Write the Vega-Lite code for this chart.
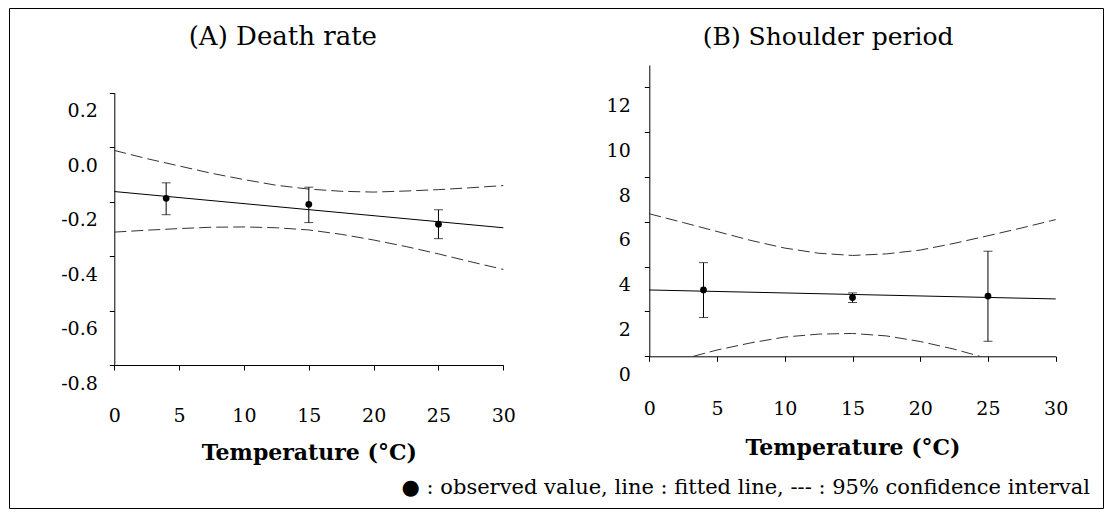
{
  "$schema": "https://vega.github.io/schema/vega-lite/v6.json",
  "width": 1094,
  "height": 500,
  "autosize": "none",
  "padding": {"left": 9, "top": 8, "right": 10, "bottom": 5},
  "background": "white",
  "config": {
    "view": {"stroke": "#000", "strokeWidth": 1},
    "axis": {
      "grid": false, "domainColor": "#000", "tickColor": "#000", "labelColor": "#000", "titleColor": "#000",
      "domainWidth": 1, "tickWidth": 1, "tickSize": 5,
      "labelFont": "DejaVu Serif", "labelFontSize": 19,
      "titleFont": "DejaVu Serif", "titleFontSize": 22, "titleFontWeight": "bold"
    },
    "text": {"font": "DejaVu Serif", "color": "#000"}
  },
  "datasets": {
    "ptsA": [
      {"T": 4, "obs": -0.188, "lo": -0.248, "hi": -0.131},
      {"T": 15, "obs": -0.210, "lo": -0.277, "hi": -0.147},
      {"T": 25, "obs": -0.283, "lo": -0.336, "hi": -0.230}
    ],
    "fitA": [{"T": 0, "v": -0.163}, {"T": 30, "v": -0.296}],
    "ciA": [
      {"T": 0, "v": -0.012, "bound": "upper"}, {"T": 2.5, "v": -0.042, "bound": "upper"},
      {"T": 5, "v": -0.069, "bound": "upper"}, {"T": 7.5, "v": -0.096, "bound": "upper"},
      {"T": 10, "v": -0.119, "bound": "upper"}, {"T": 12.5, "v": -0.140, "bound": "upper"},
      {"T": 15, "v": -0.154, "bound": "upper"}, {"T": 17.5, "v": -0.162, "bound": "upper"},
      {"T": 20, "v": -0.165, "bound": "upper"}, {"T": 22.5, "v": -0.161, "bound": "upper"},
      {"T": 25, "v": -0.156, "bound": "upper"}, {"T": 27.5, "v": -0.149, "bound": "upper"},
      {"T": 30, "v": -0.141, "bound": "upper"},
      {"T": 0, "v": -0.312, "bound": "lower"}, {"T": 2.5, "v": -0.305, "bound": "lower"},
      {"T": 5, "v": -0.299, "bound": "lower"}, {"T": 7.5, "v": -0.294, "bound": "lower"},
      {"T": 10, "v": -0.293, "bound": "lower"}, {"T": 12.5, "v": -0.296, "bound": "lower"},
      {"T": 15, "v": -0.304, "bound": "lower"}, {"T": 17.5, "v": -0.320, "bound": "lower"},
      {"T": 20, "v": -0.341, "bound": "lower"}, {"T": 22.5, "v": -0.365, "bound": "lower"},
      {"T": 25, "v": -0.392, "bound": "lower"}, {"T": 27.5, "v": -0.421, "bound": "lower"},
      {"T": 30, "v": -0.449, "bound": "lower"}
    ],
    "ptsB": [
      {"T": 4, "obs": 2.96, "lo": 1.73, "hi": 4.18},
      {"T": 15, "obs": 2.62, "lo": 2.40, "hi": 2.83},
      {"T": 25, "obs": 2.69, "lo": 0.67, "hi": 4.69}
    ],
    "fitB": [{"T": 0, "v": 2.96}, {"T": 30, "v": 2.56}],
    "ciB": [
      {"T": 0, "v": 6.36, "bound": "upper"}, {"T": 2.5, "v": 5.97, "bound": "upper"},
      {"T": 5, "v": 5.57, "bound": "upper"}, {"T": 7.5, "v": 5.17, "bound": "upper"},
      {"T": 10, "v": 4.83, "bound": "upper"}, {"T": 12.5, "v": 4.60, "bound": "upper"},
      {"T": 15, "v": 4.50, "bound": "upper"}, {"T": 17.5, "v": 4.57, "bound": "upper"},
      {"T": 20, "v": 4.74, "bound": "upper"}, {"T": 22.5, "v": 5.04, "bound": "upper"},
      {"T": 25, "v": 5.38, "bound": "upper"}, {"T": 27.5, "v": 5.73, "bound": "upper"},
      {"T": 30, "v": 6.10, "bound": "upper"},
      {"T": 3.25, "v": 0, "bound": "lower"}, {"T": 5, "v": 0.28, "bound": "lower"},
      {"T": 7.5, "v": 0.60, "bound": "lower"}, {"T": 10, "v": 0.86, "bound": "lower"},
      {"T": 12.5, "v": 0.99, "bound": "lower"}, {"T": 15, "v": 1.02, "bound": "lower"},
      {"T": 17.5, "v": 0.91, "bound": "lower"}, {"T": 20, "v": 0.66, "bound": "lower"},
      {"T": 22.5, "v": 0.32, "bound": "lower"}, {"T": 24.4, "v": 0, "bound": "lower"}
    ],
    "titles": [
      {"panel": "A", "label": "(A) Death rate", "tx": 13.0, "ty": 0.405},
      {"panel": "B", "label": "(B) Shoulder period", "tx": 13.2, "ty": 14.25},
      {"panel": "note", "label": "● : observed value, line : fitted line, --- : 95% confidence interval", "tx": 32.53, "ty": -5.87}
    ]
  },
  "layer": [
    {
      "encoding": {
        "x": {
          "field": "T", "type": "quantitative",
          "scale": {"domain": [0, 30], "range": [105.3, 494.3], "nice": false, "zero": false},
          "axis": {"orient": "bottom", "offset": -143, "values": [0, 5, 10, 15, 20, 25, 30], "labelFlush": false, "labelPadding": 36, "title": "Temperature (°C)", "titlePadding": 17}
        },
        "y": {
          "field": "v", "type": "quantitative",
          "scale": {"domain": [-0.8, 0.2], "range": [357, 84.7], "nice": false, "zero": false},
          "axis": {"orient": "left", "offset": -105.3, "values": [-0.8, -0.6, -0.4, -0.2, 0, 0.2], "labelOffset": 18, "labelPadding": 12, "title": null, "labelExpr": "replace(format(datum.value, '.1f'), '\u2212', '-')"}
        }
      },
      "layer": [
        {"data": {"name": "ciA"}, "mark": {"type": "line", "color": "#333", "strokeWidth": 1, "strokeDash": [12, 5]}, "encoding": {"detail": {"field": "bound"}}},
        {"data": {"name": "fitA"}, "mark": {"type": "line", "color": "#000", "strokeWidth": 1}, "encoding": {}},
        {"data": {"name": "ptsA"}, "mark": {"type": "rule", "color": "#000", "strokeWidth": 1}, "encoding": {"y": {"field": "lo", "type": "quantitative"}, "y2": {"field": "hi"}}},
        {"data": {"name": "ptsA"}, "mark": {"type": "tick", "orient": "horizontal", "size": 9, "thickness": 1, "color": "#000"}, "encoding": {"y": {"field": "lo", "type": "quantitative"}}},
        {"data": {"name": "ptsA"}, "mark": {"type": "tick", "orient": "horizontal", "size": 9, "thickness": 1, "color": "#000"}, "encoding": {"y": {"field": "hi", "type": "quantitative"}}},
        {"data": {"name": "ptsA"}, "mark": {"type": "circle", "size": 46, "color": "#000", "opacity": 1}, "encoding": {"y": {"field": "obs", "type": "quantitative"}}},
        {"data": {"name": "titles"}, "transform": [{"filter": "datum.panel == 'A'"}], "mark": {"type": "text", "fontSize": 26, "align": "center", "baseline": "middle"}, "encoding": {"x": {"field": "tx", "type": "quantitative"}, "y": {"field": "ty", "type": "quantitative"}, "text": {"field": "label"}}}
      ]
    },
    {
      "encoding": {
        "x": {
          "field": "T", "type": "quantitative",
          "scale": {"domain": [0, 30], "range": [640.3, 1046.7], "nice": false, "zero": false},
          "axis": {"orient": "bottom", "offset": -151.7, "values": [0, 5, 10, 15, 20, 25, 30], "labelFlush": false, "labelPadding": 38, "title": "Temperature (°C)", "titlePadding": 19}
        },
        "y": {
          "field": "v", "type": "quantitative",
          "scale": {"domain": [0, 13], "range": [348.3, 57], "nice": false, "zero": false},
          "axis": {"orient": "left", "offset": -640.3, "values": [0, 2, 4, 6, 8, 10, 12], "labelOffset": 18, "labelPadding": 14, "title": null}
        }
      },
      "layer": [
        {"data": {"name": "ciB"}, "mark": {"type": "line", "color": "#333", "strokeWidth": 1, "strokeDash": [12, 5]}, "encoding": {"detail": {"field": "bound"}}},
        {"data": {"name": "fitB"}, "mark": {"type": "line", "color": "#000", "strokeWidth": 1}, "encoding": {}},
        {"data": {"name": "ptsB"}, "mark": {"type": "rule", "color": "#000", "strokeWidth": 1}, "encoding": {"y": {"field": "lo", "type": "quantitative"}, "y2": {"field": "hi"}}},
        {"data": {"name": "ptsB"}, "mark": {"type": "tick", "orient": "horizontal", "size": 9, "thickness": 1, "color": "#000"}, "encoding": {"y": {"field": "lo", "type": "quantitative"}}},
        {"data": {"name": "ptsB"}, "mark": {"type": "tick", "orient": "horizontal", "size": 9, "thickness": 1, "color": "#000"}, "encoding": {"y": {"field": "hi", "type": "quantitative"}}},
        {"data": {"name": "ptsB"}, "mark": {"type": "circle", "size": 46, "color": "#000", "opacity": 1}, "encoding": {"y": {"field": "obs", "type": "quantitative"}}},
        {"data": {"name": "titles"}, "transform": [{"filter": "datum.panel == 'B'"}], "mark": {"type": "text", "fontSize": 25, "align": "center", "baseline": "middle"}, "encoding": {"x": {"field": "tx", "type": "quantitative"}, "y": {"field": "ty", "type": "quantitative"}, "text": {"field": "label"}}},
        {"data": {"name": "titles"}, "transform": [{"filter": "datum.panel == 'note'"}], "mark": {"type": "text", "fontSize": 21, "align": "right", "baseline": "middle"}, "encoding": {"x": {"field": "tx", "type": "quantitative"}, "y": {"field": "ty", "type": "quantitative"}, "text": {"field": "label"}}}
      ]
    }
  ],
  "resolve": {"scale": {"x": "independent", "y": "independent"}, "axis": {"x": "independent", "y": "independent"}}
}
